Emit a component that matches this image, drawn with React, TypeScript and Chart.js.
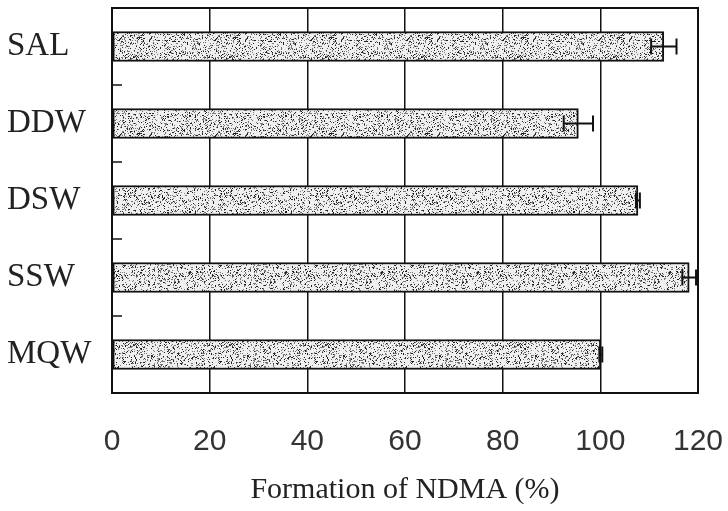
import React, { useEffect, useRef } from "react";
import { Chart, registerables } from "chart.js";

Chart.register(...registerables);

const categories = ["SAL", "DDW", "DSW", "SSW", "MQW"];
const values = [113, 95.5, 107.7, 118.2, 100.1];
const errors = [2.6, 3.0, 0.4, 1.4, 0.3];
const xTicks = [0, 20, 40, 60, 80, 100, 120];
const xTitle = "Formation of NDMA (%)";

function makePattern(): CanvasPattern | string {
  const c = document.createElement("canvas");
  c.width = 96;
  c.height = 96;
  const g = c.getContext("2d");
  if (!g) return "#cfcfcf";
  g.fillStyle = "#efefef";
  g.fillRect(0, 0, 96, 96);
  for (let y = 0; y < 96; y++) {
    for (let x = 0; x < 96; x++) {
      let h = (x * 374761393 + y * 668265263) | 0;
      h = (h ^ (h >>> 13)) * 1274126177;
      h = h ^ (h >>> 16);
      const v = (h >>> 0) % 100;
      if (v < 22) {
        g.fillStyle = v < 9 ? "#222" : "#777";
        g.fillRect(x, y, 1, 1);
      }
    }
  }
  const ctx = document.createElement("canvas").getContext("2d");
  const p = ctx ? ctx.createPattern(c, "repeat") : null;
  return p || "#cfcfcf";
}

const framePlugin = {
  id: "frameAndErrors",
  afterDatasetsDraw(chart: any) {
    const { ctx, chartArea } = chart;
    const ys = chart.scales.y;
    const xs = chart.scales.x;
    ctx.save();
    // error bars
    ctx.strokeStyle = "#111";
    ctx.lineWidth = 2;
    values.forEach((v, i) => {
      const yc = ys.getPixelForValue(i);
      const x1 = xs.getPixelForValue(v - errors[i]);
      const x2 = xs.getPixelForValue(v + errors[i]);
      const cap = 8;
      ctx.beginPath();
      ctx.moveTo(x1, yc);
      ctx.lineTo(x2, yc);
      ctx.moveTo(x1, yc - cap);
      ctx.lineTo(x1, yc + cap);
      ctx.moveTo(x2, yc - cap);
      ctx.lineTo(x2, yc + cap);
      ctx.stroke();
    });
    // inward category ticks on left axis
    ctx.lineWidth = 1.5;
    for (let i = 1; i < categories.length; i++) {
      const yb = (ys.getPixelForValue(i - 1) + ys.getPixelForValue(i)) / 2;
      ctx.beginPath();
      ctx.moveTo(chartArea.left, yb);
      ctx.lineTo(chartArea.left + 10, yb);
      ctx.stroke();
    }
    // frame
    ctx.lineWidth = 2;
    ctx.strokeStyle = "#111";
    ctx.strokeRect(
      chartArea.left,
      chartArea.top,
      chartArea.right - chartArea.left,
      chartArea.bottom - chartArea.top
    );
    ctx.restore();
  },
};

export default function App() {
  const ref = useRef<HTMLCanvasElement | null>(null);
  useEffect(() => {
    document.body.style.margin = "0";
    const canvas = ref.current;
    if (!canvas) return;
    const chart = new Chart(canvas, {
      type: "bar",
      data: {
        labels: categories,
        datasets: [
          {
            data: values,
            backgroundColor: makePattern() as any,
            borderColor: "#111",
            borderWidth: 2,
            borderSkipped: false,
            barThickness: 30,
          },
        ],
      },
      options: {
        indexAxis: "y",
        responsive: false,
        animation: false,
        layout: { padding: { left: 7, right: 30, top: 8, bottom: 0 } },
        plugins: {
          legend: { display: false },
          tooltip: { enabled: false },
        },
        scales: {
          x: {
            type: "linear",
            min: 0,
            max: 120,
            afterBuildTicks: (s: any) => {
              s.ticks = xTicks.map((v) => ({ value: v }));
            },
            grid: {
              color: "#111",
              lineWidth: 1.5,
              drawTicks: false,
            },
            border: { display: true, color: "#111", width: 2 },
            ticks: {
              padding: 31,
              color: "#333",
              font: { family: "'Liberation Sans', Arial, sans-serif", size: 30 },
            },
            title: {
              display: true,
              text: xTitle,
              color: "#222",
              font: { family: "'Liberation Serif', 'Times New Roman', serif", size: 30 },
              padding: { top: 12, bottom: 3 },
            },
            afterFit: (s: any) => {
              s.height = 118;
              s.paddingLeft = 0;
              s.paddingRight = 0;
            },
          },
          y: {
            type: "category",
            grid: { display: false, drawTicks: false },
            border: { display: true, color: "#111", width: 2 },
            ticks: {
              crossAlign: "far",
              padding: 10,
              color: "#222",
              font: { family: "'Liberation Serif', 'Times New Roman', serif", size: 33 },
            },
            afterFit: (s: any) => {
              s.width = 105;
              s.paddingTop = 0;
              s.paddingBottom = 0;
            },
          },
        },
      },
      plugins: [framePlugin],
    });
    return () => chart.destroy();
  }, []);
  return <canvas ref={ref} width={728} height={511} />;
}
